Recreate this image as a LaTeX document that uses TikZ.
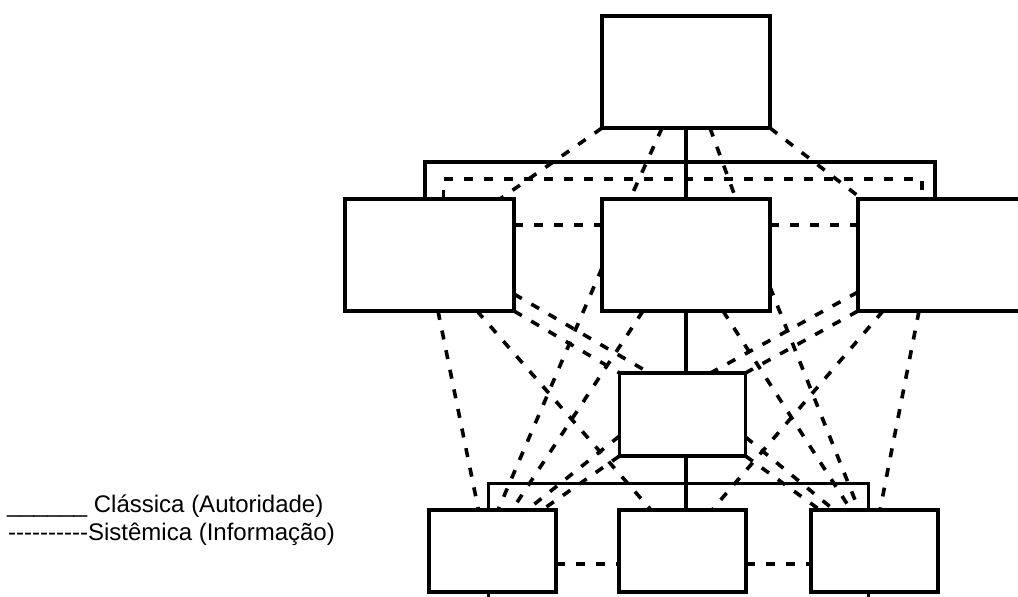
\documentclass[tikz,border=0pt]{standalone}
\usepackage{fontspec}
\newfontfamily\legendfont{Liberation Sans}
% a hyphen boxed on its own, so runs of them never merge into dashes
\newcommand\hy{\hbox{-}}
\begin{document}
\begin{tikzpicture}[x=1pt,y=-1pt,
  box/.style={draw,line width=3.6pt,inner sep=0pt,outer sep=0pt,fill=white},
  auth/.style={line width=3.3pt},
  sys/.style={line width=3.6pt,dash pattern=on 9pt off 11pt},
  legend/.style={inner sep=0pt,font=\legendfont\fontsize{24pt}{28pt}\selectfont}
]
\useasboundingbox (0,0) rectangle (1018,597);
\clip (0,0) rectangle (1018,597);

% boxes
\node[box,minimum width=168pt,minimum height=112pt] (T)  at (686,72) {};
\node[box,minimum width=169pt,minimum height=112pt] (L)  at (429.5,255) {};
\node[box,minimum width=168pt,minimum height=112pt] (M)  at (686,255) {};
\node[box,minimum width=169pt,minimum height=112pt] (R)  at (942.5,255) {};
\node[box,minimum width=126pt,minimum height=83pt]  (C)  at (682.5,414.5) {};
\node[box,minimum width=127pt,minimum height=82pt]  (BL) at (492.5,551) {};
\node[box,minimum width=127pt,minimum height=82pt]  (BM) at (682.5,551) {};
\node[box,minimum width=127pt,minimum height=82pt]  (BR) at (874.5,551) {};

% classical (authority) lines
\coordinate (ub) at (686,162);
\coordinate (lb) at (686,483.5);
\draw[auth] (T.south) -- (M.north);
\draw[auth] ([xshift=80pt]L.north west) |- (ub) -| ([xshift=77pt]R.north west);
\draw[auth] (M.south) -- (M.south |- C.north);
\draw[auth] (M.south |- C.south) -- (M.south |- BM.north);
\draw[auth] ([xshift=59.5pt]BL.north west) |- (lb) -| ([xshift=57.5pt]BR.north west);
\draw[auth] ([xshift=59.5pt]BL.south west) -- ++(0,10);
\draw[auth] ([xshift=57.5pt]BR.south west) -- ++(0,10);

% systemic (information) lines: first level
\coordinate (sb) at (686,179);
\draw[sys] ([xshift=98.5pt]L.north west) |- (sb) -| ([xshift=64pt]R.north west);
\draw[sys] (T.south west) -- ([xshift=155pt]L.north west);
\draw[sys] ([xshift=60pt]T.south west) -- ([xshift=28pt]M.north west);
\draw[sys] ([xshift=108pt]T.south west) -- ([xshift=134pt]M.north west);
\draw[sys] (T.south east) -- ([xshift=4pt]R.north west);
\draw[sys] ([yshift=30pt]L.east) -- ([yshift=30pt]M.west);
\draw[sys] ([yshift=30pt]M.east) -- ([yshift=30pt]R.west);

% systemic lines: from the left and middle boxes downwards
\draw[sys] ([xshift=93pt]L.south west) -- ([xshift=49.5pt]BL.north west);
\draw[sys] ([xshift=132pt]L.south west) -- ([xshift=32pt]BM.north west);
\draw[sys] ([yshift=17pt]L.south east) -- ([xshift=30pt]C.north west);
\draw[sys] (L.south east) -- (C.north west);
\draw[sys] ([yshift=43pt]M.south west) -- ([xshift=69pt]BL.north west);
\draw[sys] ([xshift=41pt]M.south west) -- ([xshift=83pt]BL.north west);
\draw[sys] ([yshift=20pt]C.south west) -- ([xshift=98pt]BL.north west);
\draw[sys] (C.south west) -- ([xshift=113pt]BL.north west);

% systemic lines: from the right and middle boxes downwards
\draw[sys] ([xshift=61pt]R.south west) -- ([xshift=69pt]BR.north west);
\draw[sys] ([xshift=25pt]R.south west) -- ([xshift=93pt]BM.north west);
\draw[sys] ([yshift=19pt]R.south west) -- ([xshift=91pt]C.north west);
\draw[sys] (R.south west) -- (C.north east);
\draw[sys] ([yshift=24pt]M.south east) -- ([xshift=48pt]BR.north west);
\draw[sys] ([xshift=121pt]M.south west) -- ([xshift=40pt]BR.north west);
\draw[sys] ([yshift=19pt]C.south east) -- ([xshift=23pt]BR.north west);
\draw[sys] (C.south east) -- ([xshift=9pt]BR.north west);

% systemic lines: bottom level
\draw[sys] ([yshift=-13pt]BL.east) -- ([yshift=-13pt]BM.west);
\draw[sys] ([yshift=-13pt]BM.east) -- ([yshift=-13pt]BR.west);

% legend
\node[legend,anchor=base west] (leg1) at (7,512) {\_\_\_\_\_\_ Clássica (Autoridade)};
\node[legend,anchor=base west] (leg2) at (8,540) {\hy\hy\hy\hy\hy\hy\hy\hy\hy\hy Sistêmica (Informação)};
\end{tikzpicture}
\end{document}
